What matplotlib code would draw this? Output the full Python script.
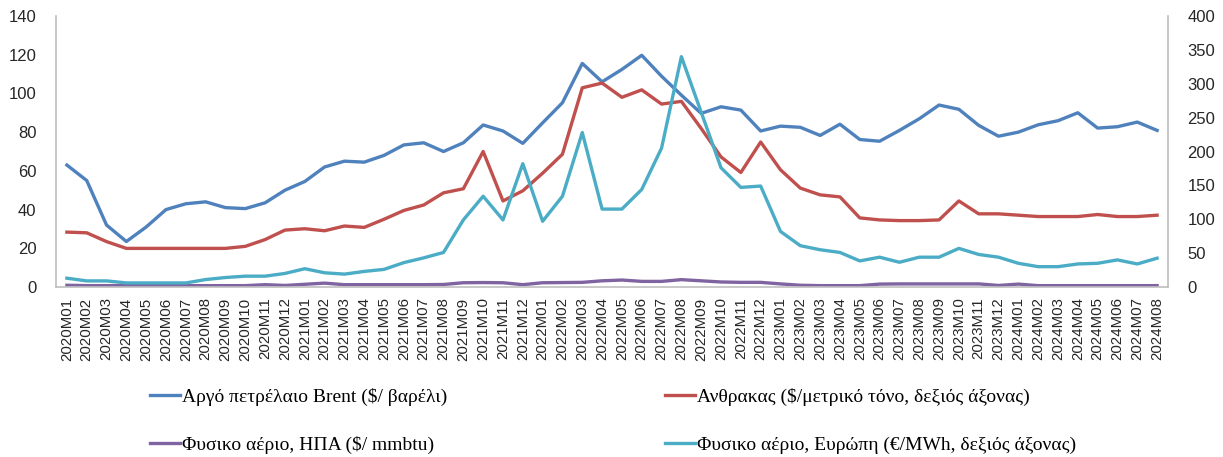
import matplotlib
matplotlib.use('Agg')
import matplotlib.pyplot as plt
import numpy as np

# monthly labels 2020M01 .. 2024M08
months = [f'{y}M{m:02d}' for y in range(2020, 2025) for m in range(1, 13)][:56]

# Brent crude, $/barrel (left axis)
brent = [63, 55, 32, 23.5, 31, 40, 43, 44, 41, 40.5, 43.5, 50,
         54.5, 62, 65, 64.5, 68, 73.4, 74.5, 70, 74.5, 83.7, 80.6, 74.2,
         84.8, 95.2, 115.5, 106, 112.4, 119.7, 108.9, 99.1, 89.7, 93.1, 91.4, 80.6,
         83.1, 82.5, 78.3, 84.1, 76.2, 75.3, 80.9, 86.9, 94, 91.8, 83.5, 77.9,
         80, 83.8, 85.9, 90, 82.1, 82.8, 85.2, 80.9]

# Coal, $/metric tonne (right axis)
coal = [81, 80, 67, 57, 57, 57, 57, 57, 57, 60, 70, 84,
        86, 83, 90, 88, 100, 113, 121, 139, 145, 200, 127, 142,
        168, 196, 294, 301, 280, 291, 270, 274, 234, 192, 169, 214,
        173, 146, 136, 133, 102, 99, 98, 98, 99, 127, 108, 108,
        106, 104, 104, 104, 107, 104, 104, 106]

# Natural gas US, $/mmbtu (left axis)
gas_us = [0.9, 0.7, 0.7, 0.7, 0.7, 0.7, 0.7, 0.7, 0.7, 0.7, 1.2, 0.8,
          1.4, 2.0, 1.2, 1.2, 1.2, 1.2, 1.2, 1.3, 2.2, 2.3, 2.2, 1.2,
          2.2, 2.3, 2.4, 3.2, 3.6, 2.9, 2.9, 3.8, 3.2, 2.6, 2.4, 2.4,
          1.6, 0.9, 0.7, 0.7, 0.7, 1.5, 1.6, 1.6, 1.6, 1.6, 1.6, 0.8,
          1.5, 0.7, 0.7, 0.7, 0.7, 0.7, 0.7, 0.7]

# Natural gas Europe, EUR/MWh (right axis)
gas_eu = [13, 9, 9, 6, 6, 6, 6, 11, 14, 16, 16, 20,
          27, 21, 19, 23, 26, 36, 43, 51, 99, 134, 99, 182,
          97, 134, 228, 115, 115, 144, 205, 340, 258, 176, 147, 149,
          82, 61, 55, 51, 38.5, 44, 36.5, 44, 44, 57, 48, 44,
          35, 30, 30, 34, 35, 40, 34, 42.5]

labels = ['Αργό πετρέλαιο Brent ($/ βαρέλι)',
          'Ανθρακας ($/μετρικό τόνο, δεξιός άξονας)',
          'Φυσικο αέριο, ΗΠΑ ($/ mmbtu)',
          'Φυσικο αέριο, Ευρώπη (€/MWh, δεξιός άξονας)']

colors = ['#4F81BD', '#C0504D', '#8064A2', '#4BACC6']

plt.rcParams['font.family'] = ['Liberation Sans', 'DejaVu Sans']

fig = plt.figure(figsize=(12.23, 4.57), dpi=100)
ax = fig.add_axes([56 / 1223, 1 - 287 / 457, 1112 / 1223, 271 / 457])
ax2 = ax.twinx()

x = np.arange(len(months))
lw = 2.4
l1, = ax.plot(x, brent, color=colors[0], lw=lw, label=labels[0])
l3, = ax.plot(x, gas_us, color=colors[2], lw=lw, label=labels[2])
l2, = ax2.plot(x, coal, color=colors[1], lw=lw, label=labels[1])
l4, = ax2.plot(x, gas_eu, color=colors[3], lw=lw, label=labels[3])

ax.set_xlim(-0.55, len(months) - 0.45)
ax.set_ylim(0, 140)
ax2.set_ylim(0, 400)
ax.set_yticks(np.arange(0, 141, 20))
ax2.set_yticks(np.arange(0, 401, 50))
ax.set_xticks(x)
ax.set_xticklabels(months, rotation=90, fontsize=10.8, color='#262626')

ax.tick_params(axis='y', length=0, pad=14, labelsize=12, labelcolor='#262626')
ax2.tick_params(axis='y', length=0, pad=14, labelsize=12, labelcolor='#262626')
ax.tick_params(axis='x', length=0, pad=7.5)

for a in (ax, ax2):
    a.spines['top'].set_visible(False)
    for s in ('left', 'right', 'bottom'):
        a.spines[s].set_color('#BFBFBF')
        a.spines[s].set_linewidth(1.2)
ax.spines['right'].set_visible(False)
ax2.spines['left'].set_visible(False)
ax2.spines['bottom'].set_visible(False)

fig.legend([l1, l3, l2, l4], [labels[0], labels[2], labels[1], labels[3]],
           ncol=2, loc='upper left', bbox_to_anchor=(150 / 1223, 1 - 388 / 457),
           frameon=False, prop={'family': 'Liberation Serif', 'size': 14},
           handlelength=1.55, handletextpad=0.1, columnspacing=11.2,
           labelspacing=1.55, borderaxespad=0, borderpad=0)

fig.savefig('out.png', dpi=100)
